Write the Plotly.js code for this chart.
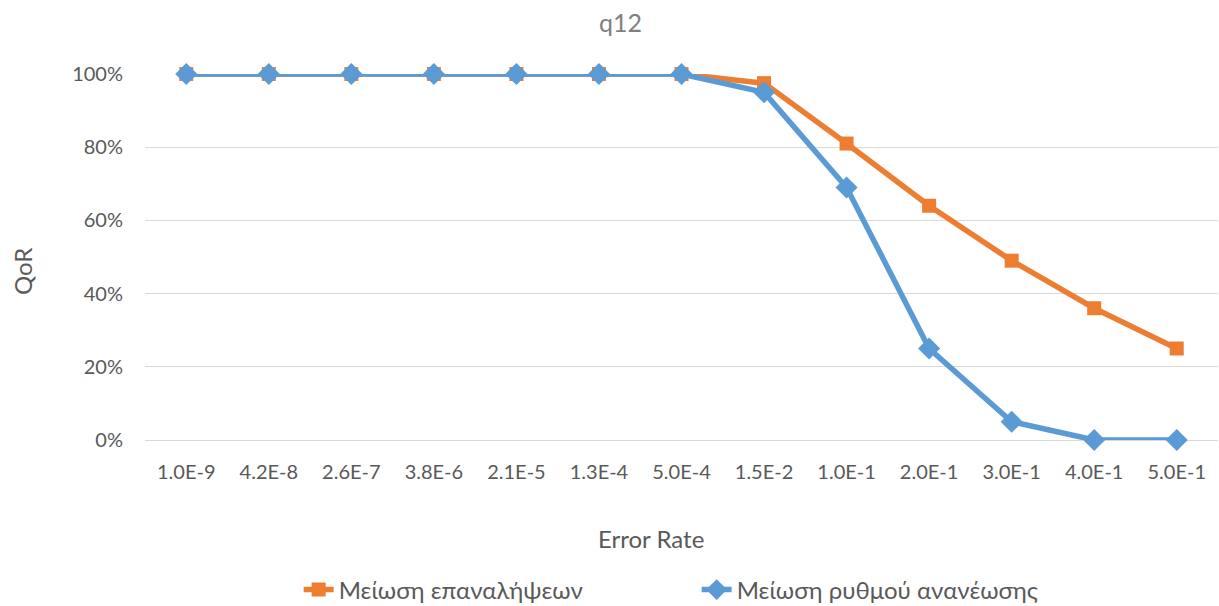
<!DOCTYPE html>
<html><head><meta charset="utf-8">
<script src="https://cdn.plot.ly/plotly-3.0.1.min.js"></script>
<style>html,body{margin:0;padding:0;background:#fff}#chart{width:1219px;height:606px}</style>
</head><body><div id="chart"></div>
<script>
const categories = ["1.0E-9","4.2E-8","2.6E-7","3.8E-6","2.1E-5","1.3E-4","5.0E-4","1.5E-2","1.0E-1","2.0E-1","3.0E-1","4.0E-1","5.0E-1"];
const seriesNames = ["Μείωση επαναλήψεων","Μείωση ρυθμού ανανέωσης"];
const repetitionReduction = [1,1,1,1,1,1,1,0.975,0.81,0.64,0.49,0.36,0.25];
const refreshReduction = [1,1,1,1,1,1,1,0.95,0.69,0.25,0.05,0,0];
const yTicks = [0,0.2,0.4,0.6,0.8,1];

const FONT = "Lato, 'Noto Sans', sans-serif";
const GRAY = "#595959";
const traces = [
  {x: categories, y: repetitionReduction, name: seriesNames[0], type: "scatter", mode: "lines+markers",
   line: {color: "#ED7D31", width: 5.5}, marker: {symbol: "square", size: 14, color: "#ED7D31"}, cliponaxis: false},
  {x: categories, y: refreshReduction, name: seriesNames[1], type: "scatter", mode: "lines+markers",
   line: {color: "#5B9BD5", width: 5.5}, marker: {symbol: "diamond", size: 17, color: "#5B9BD5"}, cliponaxis: false}
];
const layout = {
  width: 1219, height: 606,
  margin: {l: 145, r: 1, t: 74, b: 166, autoexpand: false},
  paper_bgcolor: "#fff", plot_bgcolor: "#fff",
  font: {family: FONT, color: GRAY, size: 20},
  title: {text: "q12", font: {family: FONT, size: 25, color: "#7F7F7F"}, x: 0.509, xref: "container", xanchor: "center", y: 0.962, yanchor: "middle"},
  xaxis: {type: "category", range: [-0.5, 12.5],
    showgrid: false, showline: false, ticks: "", ticklabelstandoff: 18, tickfont: {size: 20, color: GRAY}, fixedrange: true},
  yaxis: {range: [0, 1], tickvals: yTicks, tickformat: ".0%", showgrid: true, gridcolor: "#D9D9D9", gridwidth: 1,
    zeroline: true, zerolinecolor: "#D9D9D9", zerolinewidth: 1, showline: false, ticks: "", ticklabelstandoff: 21,
    tickfont: {size: 20, color: GRAY}, fixedrange: true},
  annotations: [
    {text: "Error Rate", xref: "paper", yref: "paper", x: (651 - 145) / 1073, y: (440 - 538) / 366,
     xanchor: "center", yanchor: "middle", showarrow: false, font: {size: 24, color: GRAY}},
    {text: "QoR", xref: "paper", yref: "paper", x: (22 - 145) / 1073, y: (440 - 272) / 366, textangle: -90,
     xanchor: "center", yanchor: "middle", showarrow: false, font: {size: 24, color: GRAY}}
  ],
  legend: {orientation: "h", xref: "container", yref: "container", x: 0.245, xanchor: "left", y: 0.0264, yanchor: "middle",
    font: {size: 24, color: GRAY}, entrywidth: 353, entrywidthmode: "pixels", tracegroupgap: 0},
  showlegend: true
};
Plotly.newPlot("chart", traces, layout, {displayModeBar: false, staticPlot: true});
</script></body></html>
